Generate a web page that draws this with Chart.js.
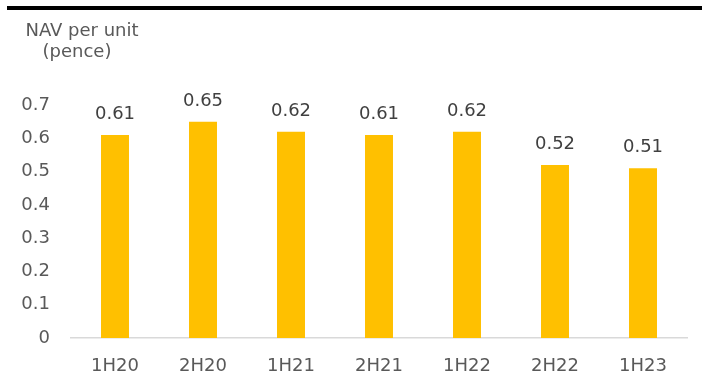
<!DOCTYPE html>
<html>
<head>
<meta charset="utf-8">
<script src="https://cdn.jsdelivr.net/npm/chart.js@4"></script>
<style>
  html, body { margin: 0; padding: 0; background: #fff; }
  #wrap { position: relative; width: 702px; height: 383px; }
</style>
</head>
<body>
<div id="wrap"><canvas id="navChart" width="702" height="383"></canvas></div>
<script>
// NAV per unit by half-year
const periods = ['1H20', '2H20', '1H21', '2H21', '1H22', '2H22', '1H23'];
const navValues = [0.61, 0.65, 0.62, 0.61, 0.62, 0.52, 0.51];
const yTicks = [0, 0.1, 0.2, 0.3, 0.4, 0.5, 0.6, 0.7];

const FONT = "'DejaVu Sans', sans-serif";
Chart.defaults.font.family = FONT;
Chart.defaults.font.size = 18;
Chart.defaults.color = '#595959';

// header rule + stacked axis caption
const headerPlugin = {
    id: 'header',
    afterDraw(chart) {
        const ctx = chart.ctx;
        ctx.save();
        ctx.fillStyle = '#000';
        ctx.fillRect(7, 6, 695, 4);
        ctx.fillStyle = '#595959';
        ctx.font = '18px ' + FONT;
        ctx.textAlign = 'center';
        ctx.textBaseline = 'alphabetic';
        ctx.fillText('NAV per unit', 82, 36);
        ctx.fillText('(pence)', 77, 57);
        ctx.restore();
    }
};

// value labels above each bar
const valueLabels = {
    id: 'valueLabels',
    afterDatasetsDraw(chart) {
        const ctx = chart.ctx;
        const meta = chart.getDatasetMeta(0);
        ctx.save();
        ctx.fillStyle = '#404040';
        ctx.font = '18px ' + FONT;
        ctx.textAlign = 'center';
        ctx.textBaseline = 'alphabetic';
        meta.data.forEach((bar, i) => {
            ctx.fillText(navValues[i].toFixed(2), bar.x, bar.y - 16);
        });
        ctx.restore();
    }
};

new Chart(document.getElementById('navChart'), {
    type: 'bar',
    data: {
        labels: periods,
        datasets: [{
            data: navValues,
            backgroundColor: '#FFC000',
            barPercentage: 0.318,
            categoryPercentage: 1.0
        }]
    },
    options: {
        responsive: false,
        animation: false,
        layout: { padding: { top: 105, right: 15, bottom: 0, left: 0 } },
        plugins: {
            legend: { display: false },
            tooltip: { enabled: false }
        },
        scales: {
            x: {
                grid: { display: false, drawTicks: false },
                border: { display: true, color: '#d9d9d9', width: 1.5 },
                ticks: { padding: 18, color: '#595959' },
                afterFit(scale) { scale.height = 45; }
            },
            y: {
                min: 0,
                max: 0.7,
                grid: { display: false, drawTicks: false },
                border: { display: false },
                afterBuildTicks(scale) { scale.ticks = yTicks.map(v => ({ value: v })); },
                ticks: {
                    padding: 21,
                    color: '#595959',
                    callback: v => (v === 0 ? '0' : v.toFixed(1))
                },
                afterFit(scale) { scale.width = 71; }
            }
        }
    },
    plugins: [headerPlugin, valueLabels]
});
</script>
</body>
</html>
